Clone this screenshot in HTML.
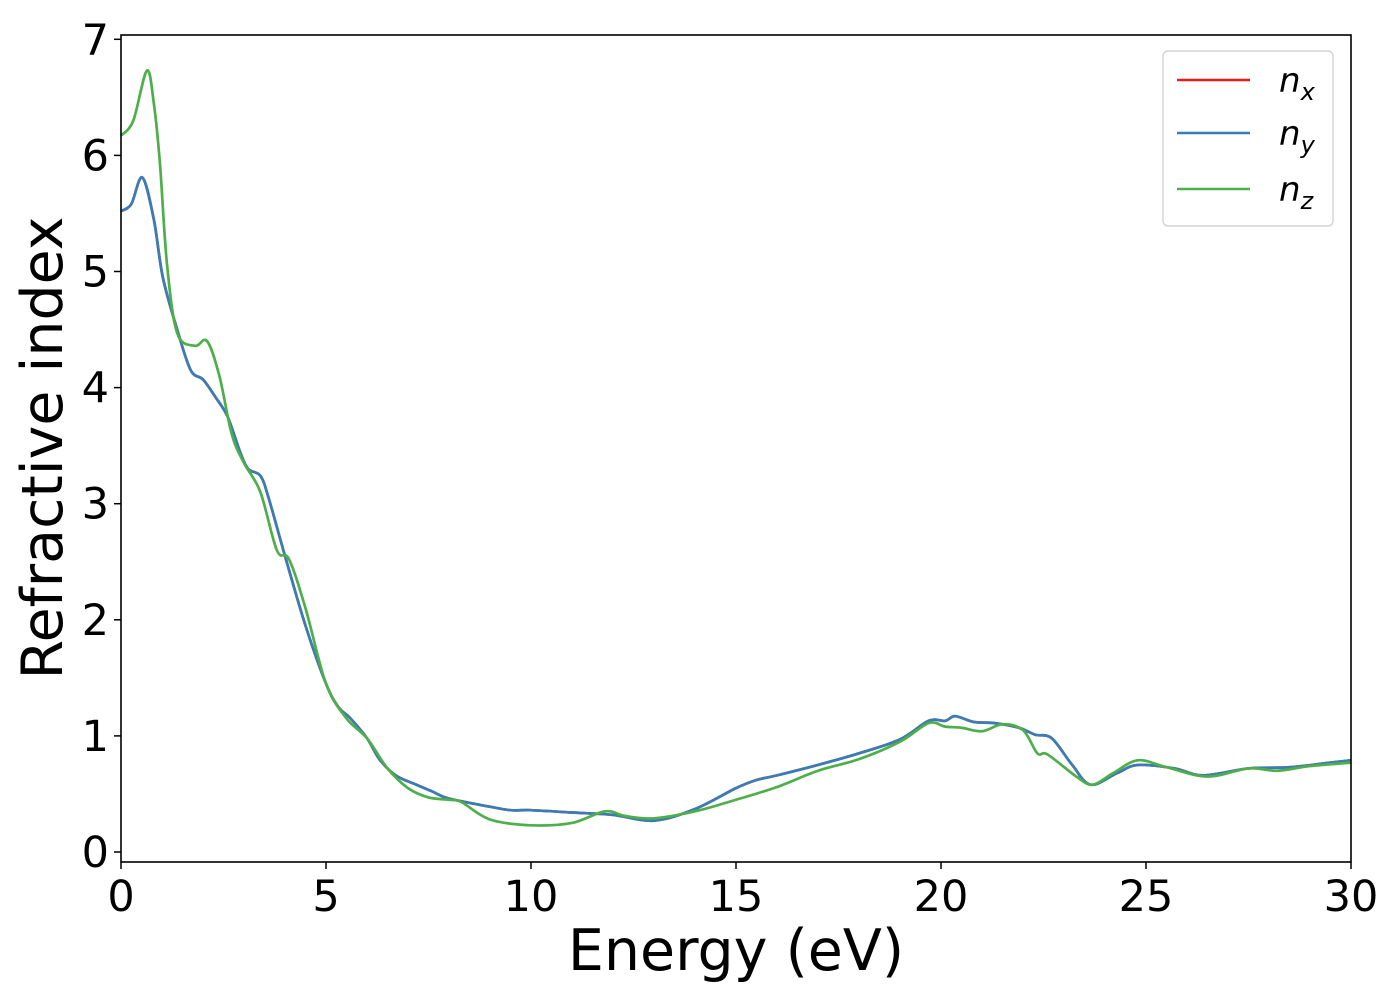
<!DOCTYPE html>
<html><head><meta charset="utf-8"><style>
body{margin:0;background:#fff;}
svg text{font-family:"DejaVu Sans","Liberation Sans",sans-serif;fill:#000;}
</style></head><body>
<svg id="chart" width="1400" height="1000">
<g id="marks"></g>
<rect x="121" y="35" width="1230" height="827" fill="none" stroke="#000" stroke-width="1.6"/>
<g id="axes"></g>
<text x="736" y="970" font-size="57" text-anchor="middle">Energy (eV)</text>
<text transform="translate(62,448) rotate(-90)" font-size="57" text-anchor="middle">Refractive index</text>
<g>
<rect x="1163" y="51" width="170" height="175" rx="5" fill="#fff" stroke="#ccc" stroke-width="1.2"/>
<g><line x1="1177" y1="80" x2="1250" y2="80" stroke="#e41a1c" stroke-width="2.5"/><text x="1279" y="92" font-size="34" font-style="italic">n<tspan font-size="24" dy="8">x</tspan></text></g>
<g><line x1="1177" y1="133" x2="1250" y2="133" stroke="#377eb8" stroke-width="2.5"/><text x="1279" y="145" font-size="34" font-style="italic">n<tspan font-size="24" dy="8">y</tspan></text></g>
<g><line x1="1177" y1="189" x2="1250" y2="189" stroke="#4daf4a" stroke-width="2.5"/><text x="1279" y="201" font-size="34" font-style="italic">n<tspan font-size="24" dy="8">z</tspan></text></g>
</g>
</svg>
<script>
const xTicks=[0,5,10,15,20,25,30];
const yTicks=[0,1,2,3,4,5,6,7];
const energyXY=[0,0.25,0.52,0.8,1.02,1.37,1.7,2.0,2.3,2.6,2.9,3.1,3.4,3.6,4.0,4.5,5.0,5.3,5.6,6.0,6.3,6.7,7.2,7.6,8.0,9.0,9.5,10,11,12,13,14,15,15.5,16,17,18,19,19.7,20.1,20.35,20.8,21.3,21.9,22.3,22.7,23.2,23.65,24.3,24.8,25.7,26.4,27.5,28.5,29.5,30];
const nXY=[5.52,5.58,5.81,5.45,4.95,4.5,4.15,4.07,3.92,3.75,3.45,3.3,3.24,3.05,2.55,1.95,1.45,1.25,1.15,0.98,0.8,0.66,0.58,0.52,0.46,0.39,0.36,0.36,0.34,0.32,0.27,0.37,0.55,0.62,0.66,0.75,0.85,0.97,1.13,1.13,1.17,1.12,1.11,1.07,1.01,0.98,0.75,0.58,0.68,0.75,0.72,0.66,0.72,0.73,0.77,0.79];
const energyZ=[0,0.3,0.63,0.8,0.95,1.12,1.37,1.8,2.1,2.4,2.7,3.0,3.4,3.8,4.1,4.5,5.0,5.5,6.0,6.5,7.0,7.5,8.0,8.3,9.0,10,11,11.8,12.3,13,14,15,16,17,18,19,19.7,20.1,20.5,21.0,21.5,22.0,22.35,22.6,23.3,23.7,24.2,24.8,25.5,26.5,27.5,28.2,29,30];
const nZ=[6.17,6.3,6.73,6.45,5.93,5.07,4.47,4.36,4.4,4.1,3.6,3.35,3.1,2.6,2.52,2.1,1.45,1.15,0.98,0.72,0.55,0.47,0.45,0.43,0.28,0.23,0.25,0.35,0.31,0.29,0.35,0.45,0.56,0.70,0.8,0.95,1.11,1.08,1.07,1.04,1.1,1.05,0.85,0.84,0.65,0.58,0.68,0.79,0.73,0.65,0.72,0.70,0.74,0.77];
const X0=121,X1=1351,Y0=852,PY=116.1;
const sx=v=>X0+(X1-X0)*v/30;
const sy=v=>Y0-v*PY;
const NS='http://www.w3.org/2000/svg';
function pathD(xs,ys){
  const p=xs.map((x,i)=>[sx(x),sy(ys[i])]);
  let d='M'+p[0][0]+','+p[0][1];
  for(let i=0;i<p.length-1;i++){
    const a=p[Math.max(0,i-1)],b=p[i],c=p[i+1],e=p[Math.min(p.length-1,i+2)];
    const c1=[b[0]+(c[0]-a[0])/6,b[1]+(c[1]-a[1])/6],c2=[c[0]-(e[0]-b[0])/6,c[1]-(e[1]-b[1])/6];
    d+=' C'+c1+' '+c2+' '+c;
  }
  return d;
}
const marks=document.getElementById('marks');
function line(xs,ys,col,name){
  const el=document.createElementNS(NS,'path');
  el.setAttribute('d',pathD(xs,ys));
  el.setAttribute('fill','none');el.setAttribute('stroke',col);el.setAttribute('stroke-width','2.7');
  el.setAttribute('stroke-linejoin','round');
  
  
  marks.appendChild(el);
}
line(energyXY,nXY,'#e41a1c','series-nx');
line(energyXY,nXY,'#377eb8','series-ny');
line(energyZ,nZ,'#4daf4a','series-nz');
const axes=document.getElementById('axes');
xTicks.forEach(t=>{
  const l=document.createElementNS(NS,'line');
  l.setAttribute('x1',sx(t));l.setAttribute('x2',sx(t));l.setAttribute('y1',862);l.setAttribute('y2',869);l.setAttribute('stroke','#000');l.setAttribute('stroke-width','1.5');
  
  
  axes.appendChild(l);
  const tx=document.createElementNS(NS,'text');
  tx.setAttribute('x',sx(t));tx.setAttribute('y',911);tx.setAttribute('font-size','43');tx.setAttribute('text-anchor','middle');
  tx.textContent=t;
  
  
  axes.appendChild(tx);
});
yTicks.forEach(t=>{
  const l=document.createElementNS(NS,'line');
  l.setAttribute('x1',114);l.setAttribute('x2',121);l.setAttribute('y1',sy(t));l.setAttribute('y2',sy(t));l.setAttribute('stroke','#000');l.setAttribute('stroke-width','1.5');
  
  
  axes.appendChild(l);
  const tx=document.createElementNS(NS,'text');
  tx.setAttribute('x',109);tx.setAttribute('y',sy(t)+15);tx.setAttribute('font-size','43');tx.setAttribute('text-anchor','end');
  tx.textContent=t;
  
  
  axes.appendChild(tx);
});
</script>
</body></html>
